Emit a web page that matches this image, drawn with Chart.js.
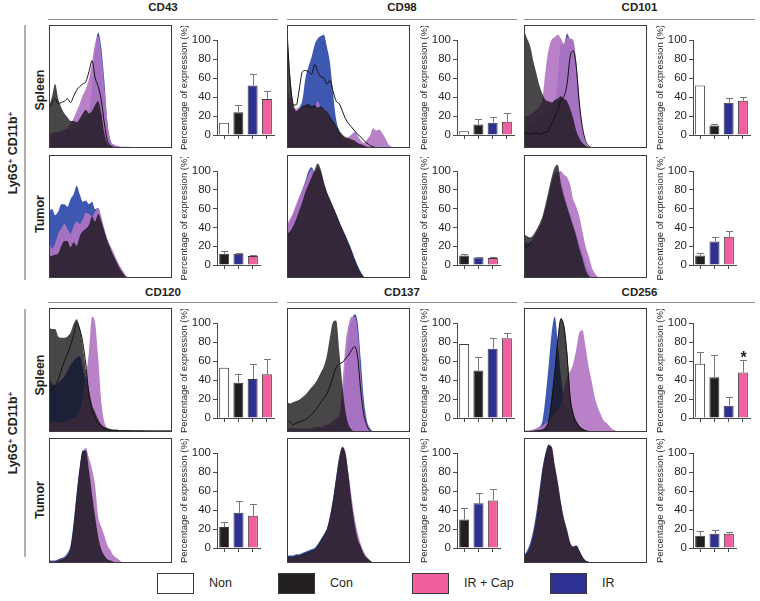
<!DOCTYPE html>
<html><head><meta charset="utf-8">
<script src="https://cdn.jsdelivr.net/npm/chart.js@4/dist/chart.umd.min.js"></script>
<style>
html,body{margin:0;padding:0;background:#fff}
body{width:760px;height:601px;position:relative;overflow:hidden;font-family:"Liberation Sans",Arial,sans-serif;color:#231f20}
.t{position:absolute;white-space:nowrap;transform:translate(-50%,-50%)}
.r{position:absolute;white-space:nowrap;transform:translate(-50%,-50%) rotate(-90deg)}
.hl{position:absolute;height:1px;background:#8c8c8c}
.vl{position:absolute;width:2px;background:#b0b0b0}
.lb{position:absolute;width:37px;height:21px;box-sizing:border-box;border:1px solid #3a3a3a}
sup{font-size:65%;vertical-align:0.45em;line-height:0}
</style></head><body>
<script>
// ---------- categories ----------
const markers = ['CD43','CD98','CD101','CD120','CD137','CD256'];
const rowNames = ['Spleen','Tumor'];
const spleenGroups = ['Non','Con','IR','IR + Cap'];
const tumorGroups = ['Con','IR','IR + Cap'];
const legendGroups = ['Non','Con','IR + Cap','IR'];
const yTicks = [0,20,40,60,80,100];

// ---------- bar values (% expression) and SEM ----------
const CD43_spleen_bar = [13,24,52,38];   const CD43_spleen_err = [0,8,12,8];
const CD43_tumor_bar  = [12,12,9.5];     const CD43_tumor_err  = [3,1,1.5];
const CD98_spleen_bar = [4,11,13,14];    const CD98_spleen_err = [0,6,6,9];
const CD98_tumor_bar  = [10,8,7.5];      const CD98_tumor_err  = [2,1,1.5];
const CD101_spleen_bar = [52,10,34,36];  const CD101_spleen_err = [0,1.5,5,4];
const CD101_tumor_bar  = [10,25,30];     const CD101_tumor_err  = [3,5,6];
const CD120_spleen_bar = [53,37,41,46];  const CD120_spleen_err = [0,9,16,16];
const CD120_tumor_bar  = [22,37,34];     const CD120_tumor_err  = [5,13,12];
const CD137_spleen_bar = [78,50,73,84];  const CD137_spleen_err = [0,14,11,6];
const CD137_tumor_bar  = [30,47,50];     const CD137_tumor_err  = [12,11,12];
const CD256_spleen_bar = [57,43,13,48];  const CD256_spleen_err = [12,23,9,13];
const CD256_tumor_bar  = [13,15,15];     const CD256_tumor_err  = [5,4,2];
const CD256_spleen_sig = ['','','','*'];

// ---------- histogram curves (% of max, one value per channel bin 0..40) ----------
const CD43_spleen_non = [32,37,40,36,37,38,40,37,42,47,50,52,54,62,71,57,50,39,20,6,2,0];
const CD43_spleen_con = [33,42,52,40,33,28,25,22,22,21,24,28,31,28,30,35,38,28,12,4,2,1,0.5,0];
const CD43_spleen_ir  = [10,10,11,11,12,12,13,14,15,17,19,22,25,30,50,80,94,82,55,20,6,2,1,0];
const CD43_spleen_cap = [12,12,13,13,14,15,16,20,24,30,36,43,48,56,70,85,91,77,50,22,6,3,2,1.5,1,1,1,0.8,0.6,0.5,0.3,0];
const CD43_tumor_con = [17,18,19,20,26,30,30,25,29,26,34,38,40,43,50,46,52,46,38,30,24,18,13,8,4,1,0];
const CD43_tumor_ir  = [54,56,51,54,60,60,58,64,68,75,68,62,63,60,62,56,57,48,38,30,23,17,12,7,3,1,0];
const CD43_tumor_cap = [31,24,28,36,40,44,40,36,42,46,44,48,53,52,50,54,57,50,40,32,26,21,15,10,6,2,0];

const CD98_spleen_non = [95,55,35,35,48,62,63,62,60,68,62,58,57,52,55,46,38,36,30,24,20,17,14,11,9,6,4,2,1,0];
const CD98_spleen_con = [96,60,38,30,32,34,35,36,34,35,33,34,32,30,26,22,18,14,11,9,8,7,6,4,3,2,1,0];
const CD98_spleen_ir  = [40,35,30,30,33,39,57,66,74,84,89,91,92,82,69,44,23,14,9,6,4,3,2,1,0];
const CD98_spleen_cap = [50,40,33,32,33,33,34,33,32,33,38,33,32,30,25,20,16,12,10,8,9,11,13,10,6,4,7,10,16,14,15,12,8,3,1,0];
const CD98_tumor_con = [36,38,42,48,55,62,70,76,82,88,93,88,78,70,64,58,52,46,40,34,28,22,15,9,4,1,0];
const CD98_tumor_ir  = [42,46,52,58,65,72,79,87,90,86,89,85,76,69,63,58,52,46,40,35,29,23,16,10,5,1,0];
const CD98_tumor_cap = [44,48,53,60,66,72,78,84,88,86,90,86,77,69,63,57,51,45,39,33,27,21,14,8,4,1,0];

const CD101_spleen_non = [12,12,11,12,12,11,12,13,14,20,25,31,39,42,52,74,79,66,36,17,6,2,0];
const CD101_spleen_con = [96,89,83,71,61,51,44,39,38,37,39,40,42,40,38,32,24,14,8,4,2,1,0];
const CD101_spleen_ir  = [15,16,18,20,22,24,26,28,30,32,36,55,84,84,93,88,86,68,38,14,4,1,0];
const CD101_spleen_cap = [25,26,27,29,31,34,40,63,80,88,90,92,89,85,90,89,88,71,42,17,5,1,0];
const CD101_tumor_con = [36,34,33,35,39,44,50,60,71,82,90,92,76,66,58,50,42,34,24,16,7,2,0];
const CD101_tumor_ir  = [30,28,29,32,36,41,47,56,66,76,84,86,80,70,60,52,44,36,28,20,12,6,2,0];
const CD101_tumor_cap = [22,24,27,31,35,40,46,55,66,78,85,86,87,84,82,76,64,58,50,38,26,18,9,4,1,0];

const CD120_spleen_non = [33,34,37,42,50,57,63,70,78,88,83,72,54,30,18,11,7,5,3,2,1.5,1.2,1,1,1,1,1,0.8,0.8,0.8,0.8,0.6,0.6,0.6,0.5,0.5,0.5,0.5,0.5,0.5,0.5];
const CD120_spleen_con = [84,83,83,77,76,76,77,80,87,91,84,69,50,34,22,16,10,6,4,3,2.5,2,2,1.5,1.5,1.5,1.5,1.5,1.5,1.5,1.5,1.5,1.5,1.5,1.5,1.5,1.5,1.5,1.5,1.5,1.5];
const CD120_spleen_ir  = [45,39,38,40,42,45,49,54,57,60,61,52,40,24,11,5,3,2,1,0];
const CD120_spleen_cap = [8,8,8,8,8,8,9,10,11,13,18,28,45,65,93,88,60,25,8,3,1,0];
const CD120_tumor_con = [1,1,1.5,2,3,4,6,12,30,55,77,90,90,74,55,37,21,11,6,3,2,1,0];
const CD120_tumor_ir  = [2,2,2,3,4,5,8,14,32,56,76,90,86,73,52,33,18,10,5,2,1,0];
const CD120_tumor_cap = [1,1,1.5,2,3,4,5,10,26,52,74,88,92,84,75,62,37,29,22,14,10,6,4,2,0];

const CD137_spleen_non = [9,8,6,7,8,9,10,12,14,17,20,24,27,31,37,45,52,55,56,59,62,66,69,60,33,14,5,1,0];
const CD137_spleen_con = [24,23,24,25,26,28,30,33,36,39,43,48,53,62,77,89,90,65,38,17,6,2,0];
const CD137_spleen_ir  = [2,2,2,2,2,2,2,2,2,2,3,3,3,4,5,6,7,8,22,52,78,90,95,88,58,26,9,3,0];
const CD137_spleen_cap = [3,3,3,3,3,3,3,3,3,4,4,4,5,6,7,9,11,14,38,70,86,93,93,81,46,18,7,2,0];
const CD137_tumor_con = [5,5,5,6,6,7,8,9,10,11,14,18,22,27,37,51,68,84,93,88,70,48,31,19,13,7,4,2,0];
const CD137_tumor_ir  = [6,6,6,7,7,8,9,10,11,12,15,19,23,28,38,52,69,85,92,87,70,49,32,20,13,7,4,2,0];
const CD137_tumor_cap = [4,4,4,5,5,6,7,8,9,10,13,17,21,26,36,50,67,83,92,89,72,53,36,24,15,9,5,2,0];

const CD256_spleen_non = [0.5,0.5,0.5,0.5,1,1,1.5,3,8,25,48,74,91,85,62,28,14,8,4,2,1,0];
const CD256_spleen_con = [0.5,0.5,0.5,1,1,1.5,2,4,10,28,50,76,92,86,66,31,16,9,5,3,1.5,1,0];
const CD256_spleen_ir  = [0.5,0.5,1,1,2,4,9,28,53,80,93,72,45,26,20,15,11,7,4,2,1,0];
const CD256_spleen_cap = [1,1,1.5,2,3,4,5,7,9,12,15,18,23,34,45,49,55,67,80,82,69,53,41,28,20,14,9,7,4,2,1,0];
const CD256_tumor_con = [5,8,13,22,36,55,74,87,94,93,78,64,48,35,26,16,13,14,10,5,2,1,0];
const CD256_tumor_ir  = [6,10,16,26,40,58,76,88,95,91,76,62,47,34,25,16,13,14,10,5,2,1,0];
const CD256_tumor_cap = [4,7,12,21,35,54,73,87,94,93,79,65,49,36,27,17,13,13,9,5,2,1,0];

// ---------- tables built from the arrays ----------
const HIST = {
  CD43:{Spleen:{non:CD43_spleen_non,con:CD43_spleen_con,ir:CD43_spleen_ir,cap:CD43_spleen_cap},Tumor:{con:CD43_tumor_con,ir:CD43_tumor_ir,cap:CD43_tumor_cap}},
  CD98:{Spleen:{non:CD98_spleen_non,con:CD98_spleen_con,ir:CD98_spleen_ir,cap:CD98_spleen_cap},Tumor:{con:CD98_tumor_con,ir:CD98_tumor_ir,cap:CD98_tumor_cap}},
  CD101:{Spleen:{non:CD101_spleen_non,con:CD101_spleen_con,ir:CD101_spleen_ir,cap:CD101_spleen_cap},Tumor:{con:CD101_tumor_con,ir:CD101_tumor_ir,cap:CD101_tumor_cap}},
  CD120:{Spleen:{non:CD120_spleen_non,con:CD120_spleen_con,ir:CD120_spleen_ir,cap:CD120_spleen_cap},Tumor:{con:CD120_tumor_con,ir:CD120_tumor_ir,cap:CD120_tumor_cap}},
  CD137:{Spleen:{non:CD137_spleen_non,con:CD137_spleen_con,ir:CD137_spleen_ir,cap:CD137_spleen_cap},Tumor:{con:CD137_tumor_con,ir:CD137_tumor_ir,cap:CD137_tumor_cap}},
  CD256:{Spleen:{non:CD256_spleen_non,con:CD256_spleen_con,ir:CD256_spleen_ir,cap:CD256_spleen_cap},Tumor:{con:CD256_tumor_con,ir:CD256_tumor_ir,cap:CD256_tumor_cap}}
};
const BARS = {
  CD43:{Spleen:[CD43_spleen_bar,CD43_spleen_err],Tumor:[CD43_tumor_bar,CD43_tumor_err]},
  CD98:{Spleen:[CD98_spleen_bar,CD98_spleen_err],Tumor:[CD98_tumor_bar,CD98_tumor_err]},
  CD101:{Spleen:[CD101_spleen_bar,CD101_spleen_err],Tumor:[CD101_tumor_bar,CD101_tumor_err]},
  CD120:{Spleen:[CD120_spleen_bar,CD120_spleen_err],Tumor:[CD120_tumor_bar,CD120_tumor_err]},
  CD137:{Spleen:[CD137_spleen_bar,CD137_spleen_err],Tumor:[CD137_tumor_bar,CD137_tumor_err]},
  CD256:{Spleen:[CD256_spleen_bar,CD256_spleen_err,CD256_spleen_sig],Tumor:[CD256_tumor_bar,CD256_tumor_err]}
};

// ---------- styles & layout ----------
const FONT = '"Liberation Sans", Arial, sans-serif';
const BAR_COLORS = {'Non':'#ffffff','Con':'#231f20','IR':'#2e3192','IR + Cap':'#f0609e'};
const FILL_CON = 'rgba(20,18,20,0.78)';
const FILL_CAP = 'rgba(177,116,194,0.9)';
const FILL_IR  = 'rgb(62,88,178)';
const histLeft = [49,287,524];
const histW = 123;
const barAxisX = [217,457,693];
const histTop = [[25,155],[308,438]];
const histH = [[123,123],[124,125]];
const barTop = [[40,171],[323,453]];
const barZero = [[135,265],[418,548]];
const headerY = [7,292];
const lineY = [19,302];
const headerLines = [[48,278],[287,517],[524,755]];
const vLines = [[25,280],[309,557]];
const rowLabelY = [[90,214],[375,500]];

function addCanvas(left, top, w, h){
  const c = document.createElement('canvas');
  c.width = w; c.height = h;
  c.style.cssText = 'position:absolute;left:'+left+'px;top:'+top+'px;width:'+w+'px;height:'+h+'px';
  document.body.appendChild(c);
  return c;
}
function addText(cls, x, y, html, css){
  const d = document.createElement('div');
  d.className = cls; d.style.left = x+'px'; d.style.top = y+'px';
  d.style.cssText += css || '';
  d.innerHTML = html;
  document.body.appendChild(d);
}

const boxPlugin = {
  id:'box',
  afterDraw(chart){
    const {ctx, width, height} = chart;
    ctx.save(); ctx.strokeStyle = '#3c3c3c'; ctx.lineWidth = 1;
    ctx.strokeRect(0.5,0.5,width-1,height-1); ctx.restore();
  }
};
const errPlugin = {
  id:'errbars',
  afterDatasetsDraw(chart){
    const ds = chart.data.datasets[0];
    const meta = chart.getDatasetMeta(0);
    const ys = chart.scales.y;
    const ctx = chart.ctx;
    ctx.save();
    ctx.strokeStyle = '#767676'; ctx.lineWidth = 1;
    meta.data.forEach((bar,i)=>{
      const e = ds.errors[i];
      const x = Math.round(bar.x)+0.5;
      let yTop = ys.getPixelForValue(ds.data[i]);
      if (e){
        yTop = ys.getPixelForValue(ds.data[i]+e);
        const y1 = Math.round(yTop)+0.5;
        ctx.beginPath();
        ctx.moveTo(x, bar.y); ctx.lineTo(x, y1);
        ctx.moveTo(x-3.5, y1); ctx.lineTo(x+3.5, y1);
        ctx.stroke();
      }
      if (ds.sig && ds.sig[i]){
        ctx.fillStyle = '#231f20';
        ctx.font = 'bold 16px '+FONT;
        ctx.textAlign = 'center'; ctx.textBaseline = 'alphabetic';
        ctx.fillText(ds.sig[i], x, yTop+3);
      }
    });
    ctx.restore();
  }
};

function pts(arr){ return arr.map((v,i)=>({x:i,y:v})); }

function drawHist(left, top, w, h, s){
  const c = addCanvas(left, top, w, h);
  const datasets = [];
  if (s.non) datasets.push({data:pts(s.non), borderColor:'#111', borderWidth:1, fill:false});
  datasets.push({data:pts(s.con), backgroundColor:FILL_CON, borderColor:'rgba(0,0,0,0)', borderWidth:0, fill:'origin'});
  datasets.push({data:pts(s.cap), backgroundColor:FILL_CAP, borderColor:'rgba(0,0,0,0)', borderWidth:0, fill:'origin'});
  datasets.push({data:pts(s.ir), backgroundColor:FILL_IR, borderColor:'rgba(0,0,0,0)', borderWidth:0, fill:'origin'});
  new Chart(c, {
    type:'line',
    data:{datasets},
    options:{
      responsive:false, animation:false, devicePixelRatio:1,
      layout:{padding:0},
      elements:{point:{radius:0}, line:{cubicInterpolationMode:'monotone'}},
      plugins:{legend:{display:false}, tooltip:{enabled:false}},
      scales:{x:{type:'linear',min:0,max:40,display:false}, y:{min:0,max:100,display:false}}
    },
    plugins:[boxPlugin]
  });
}

function drawBars(axisX, top100, zero, labels, vals, errs, sig){
  const yW = 38, padT = 14, padB = 9, xH = 6, padR = 4;
  const areaW = Math.round(14.25*labels.length);
  const c = addCanvas(axisX-yW, top100-padT, yW+areaW+padR, (zero-top100)+padT+xH+padB);
  new Chart(c, {
    type:'bar',
    data:{labels, datasets:[{data:vals, errors:errs, sig:sig,
      backgroundColor:labels.map(l=>BAR_COLORS[l]), borderColor:'#3a3a3a', borderWidth:1,
      barPercentage:0.7, categoryPercentage:1}]},
    options:{
      responsive:false, animation:false, devicePixelRatio:1,
      layout:{padding:{top:padT,bottom:padB,left:0,right:padR}},
      plugins:{legend:{display:false}, tooltip:{enabled:false}},
      scales:{
        x:{grid:{drawOnChartArea:false,drawTicks:true,tickLength:4,offset:false,color:'#4a4a4a'},
           border:{display:true,color:'#4a4a4a'}, ticks:{display:false},
           afterFit(s){ s.height = xH; }},
        y:{min:0,max:100,
           afterBuildTicks(s){ s.ticks = yTicks.map(v=>({value:v})); },
           ticks:{padding:2,color:'#231f20',font:{family:FONT,size:11.5}},
           grid:{drawOnChartArea:false,drawTicks:true,tickLength:4,color:'#4a4a4a'},
           border:{display:true,color:'#4a4a4a'},
           title:{display:true,text:'Percentage of expression (%)',color:'#231f20',font:{family:FONT,size:9.5},padding:0},
           afterFit(s){ s.width = yW; }}
      }
    },
    plugins:[errPlugin]
  });
}

// ---------- build panels ----------
markers.forEach((m,k)=>{
  const b = Math.floor(k/3), c = k%3;
  rowNames.forEach((r,ri)=>{
    drawHist(histLeft[c], histTop[b][ri], histW, histH[b][ri], HIST[m][r]);
    const [vals, errs, sig] = BARS[m][r];
    drawBars(barAxisX[c], barTop[b][ri], barZero[b][ri], ri===0?spleenGroups:tumorGroups, vals, errs, sig);
  });
  const [x0,x1] = headerLines[c];
  addText('t', (x0+x1)/2, headerY[b], m, 'font-weight:bold;font-size:11.5px;');
  const d = document.createElement('div');
  d.className='hl'; d.style.left=x0+'px'; d.style.top=lineY[b]+'px'; d.style.width=(x1-x0)+'px';
  document.body.appendChild(d);
});
[0,1].forEach(b=>{
  const v = document.createElement('div');
  v.className='vl'; v.style.left='24px'; v.style.top=vLines[b][0]+'px'; v.style.height=(vLines[b][1]-vLines[b][0])+'px';
  document.body.appendChild(v);
  addText('r', 13, (vLines[b][0]+vLines[b][1])/2, 'Ly6G<sup>+</sup> CD11b<sup>+</sup>', 'font-weight:bold;font-size:12.5px;');
  addText('r', 40, rowLabelY[b][0], rowNames[0], 'font-weight:bold;font-size:12.5px;');
  addText('r', 40, rowLabelY[b][1], rowNames[1], 'font-weight:bold;font-size:12.5px;');
});
// legend
const legendBoxX = [157,278,412,550];
legendGroups.forEach((g,i)=>{
  const d = document.createElement('div');
  d.className='lb'; d.style.left=legendBoxX[i]+'px'; d.style.top='573px'; d.style.background=BAR_COLORS[g];
  document.body.appendChild(d);
  const t = document.createElement('div');
  t.style.cssText='position:absolute;white-space:nowrap;font-size:12.5px;left:'+(legendBoxX[i]+52)+'px;top:576px;line-height:15px;';
  t.textContent = g;
  document.body.appendChild(t);
});
</script>
</body></html>
